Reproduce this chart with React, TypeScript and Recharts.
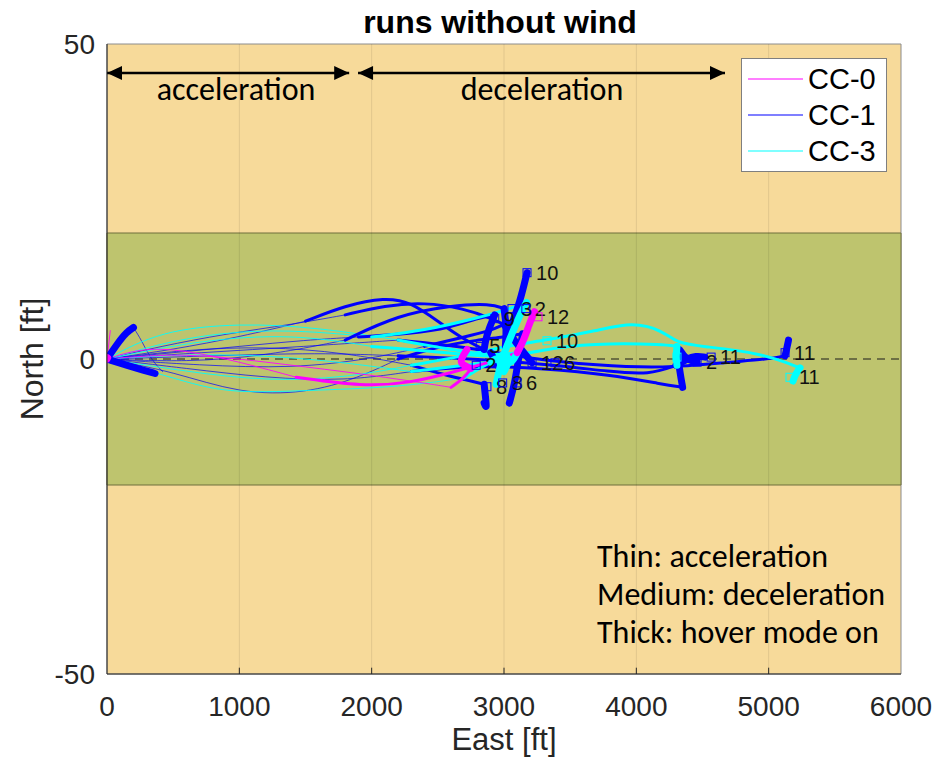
import React from 'react';
import { ComposedChart, Line, XAxis, YAxis, ReferenceArea, ReferenceLine, Scatter, Legend, Label } from 'recharts';

type P = [number, number];

// ---------- axes ----------
const xDomain: [number, number] = [0, 6000];
const yDomain: [number, number] = [-50, 50];
const xTicks = [0, 1000, 2000, 3000, 4000, 5000, 6000];
const yTicks = [-50, 0, 50];
const corridor: [number, number] = [-20, 20];

// ---------- series ----------
const seriesNames = ['CC-0', 'CC-1', 'CC-3'];
const seriesColors = ['#ff00ff', '#0000ff', '#00ffff'];

// CC-0 (magenta)
const cc0Accel: P[][] = [
  [[0, 0], [300, 2], [700, 1], [1100, -1], [1430, -2.9]],
  [[0, 0], [600, 1], [1200, -0.5], [1800, -2], [2300, -3.5], [2600, -4.5]],
  [[0, 0], [25, 4.5]],
];
const cc0Decel: P[][] = [
  [[1430, -2.9], [1935, -4.4], [2290, -3.8], [2592, -2.2], [2947, -0.2], [3100, 1]],
  [[2600, -4.5], [2700, -3], [2750, -1.5]],
];
const cc0Hover: P[][] = [
  [[3100, 1], [3150, 3], [3190, 5.5], [3230, 7.5]],
  [[2750, -1.5], [2700, -1], [2660, -0.5], [2720, 1.5]],
  [[0, 0], [5, 0.2]],
];
const cc0Labels = [{ x: 3257, y: 6.7, text: '12' }];

// CC-1 (blue)
const cc1Accel: P[][] = [
  [[0, 0], [400, 2], [900, 4], [1400, 5.5], [1800, 7]],
  [[0, 0], [500, -2], [1000, -5.5], [1500, -5.5], [1900, -3], [2200, 0]],
  [[0, 0], [600, 1.5], [1200, 2], [1800, 1], [2300, -1]],
  [[0, 0], [500, 1], [1000, 2], [1500, 3], [1900, 3.5]],
  [[0, 0], [700, -1], [1400, -1.5], [2000, 0], [2400, 2]],
  [[0, 0], [600, -1.5], [1200, -3], [1800, -3.5], [2300, -2]],
  [[0, 0], [800, 0.5], [1600, 1], [2200, 0.5]],
  [[0, 0], [700, 1], [1500, 2], [2200, 3]],
  [[0, 0], [500, 1.5], [1000, 3.5], [1500, 6]],
  [[0, 0], [600, -0.5], [1200, 0.5], [1800, 3]],
  [[200, 5], [260, 3], [330, 0], [420, -2]],
];
const cc1Decel: P[][] = [
  [[1800, 7], [2100, 8.5], [2400, 9], [2700, 8], [2900, 6.5], [3050, 5]],
  [[2200, 0], [2500, 2], [2800, 3], [3000, 3.5], [3140, 4]],
  [[2300, -1], [2550, -2.5], [2750, -3.5], [2850, -4]],
  [[1900, 3.5], [2300, 4], [2600, 5], [2800, 6.5], [2930, 7]],
  [[2400, 2], [2700, 3.5], [2900, 4.5], [3000, 5.5]],
  [[2300, -2], [2800, -1], [3300, -1.5], [3800, -2.5], [4200, -4], [4350, -4.5]],
  [[2200, 0.5], [2800, 0], [3400, -1], [3800, -2], [4100, -2.5], [4300, -1]],
  [[2200, 3], [2700, 2], [3200, 0], [3700, -1], [4200, -1.5], [4700, -0.5], [5000, 0], [5124, 0.5]],
  [[1500, 6], [1800, 8.5], [2100, 9.8], [2300, 9], [2500, 6], [2700, 3], [2900, 1]],
  [[1800, 3], [2200, 7], [2600, 8.5], [2900, 8.8], [3000, 8]],
];
const cc1Hover: P[][] = [
  [[3050, 5], [3120, 9], [3174, 13.7]],
  [[3140, 4], [3110, 0], [3080, -4], [3040, -7]],
  [[2850, -4], [2860, -6], [2870, -8], [2850, -7]],
  [[2930, 7], [2890, 5], [2860, 3], [2850, 1.5]],
  [[3000, 5.5], [3060, 3.5], [3130, 1.5], [3212, -0.6]],
  [[4350, -4.5], [4320, -1], [4310, 2.5], [4360, 0], [4459, -0.5]],
  [[4300, -1], [4380, 0], [4450, 0.5], [4519, 0.3]],
  [[5124, 0.5], [5140, 2], [5150, 3]],
  [[2900, 1], [2950, -1]],
  [[3000, 8], [3020, 5], [3010, 2]],
  [[0, 0], [80, 2.5], [150, 4.3], [200, 5]],
  [[0, 0], [150, -1], [280, -1.8], [363, -2.3]],
];
const cc1Labels = [
  { x: 3174, y: 13.7, text: '10' },
  { x: 3060, y: 8, text: '3' },
  { x: 3165, y: 8, text: '2' },
  { x: 2930, y: 6.4, text: '9' },
  { x: 2820, y: 2, text: '5' },
  { x: 2790, y: -1, text: '2' },
  { x: 3212, y: -0.6, text: '12' },
  { x: 3385, y: -0.6, text: '6' },
  { x: 2871, y: -4.4, text: '8' },
  { x: 2990, y: -3.8, text: '8' },
  { x: 3098, y: -3.8, text: '6' },
  { x: 4459, y: -0.5, text: '2' },
  { x: 4565, y: 0.3, text: '11' },
  { x: 5124, y: 1, text: '11' },
];

// CC-3 (cyan)
const cc3Accel: P[][] = [
  [[0, 0], [500, 3], [1000, 4.5], [1500, 4.5], [2000, 3.5]],
  [[0, 0], [600, -2], [1200, -3.5], [1800, -3], [2300, -1]],
  [[0, 0], [700, 3], [1400, 4], [2000, 2]],
  [[0, 0], [500, -3], [900, -5.5], [1500, -5], [2200, -4.5], [2700, -3]],
  [[0, 0], [400, 4.5], [1000, 5.7], [1600, 5], [2200, 3]],
  [[0, 0], [800, 1], [1600, 0], [2300, -2]],
];
const cc3Decel: P[][] = [
  [[2000, 3.5], [2400, 4.5], [2800, 6.5], [3050, 8], [3170, 9]],
  [[2300, -1], [2700, 0.5], [3000, 2], [3325, 3], [3700, 4.5], [3975, 5.9], [4200, 4.5], [4307, 2.5], [4500, 2], [4935, 1], [5237, -1.4]],
  [[2000, 2], [2600, 1], [3000, 0], [3400, 2], [3800, 2.5], [4200, 2.3], [4307, 2]],
  [[2700, -3], [2850, -1], [2950, 0]],
  [[2200, 3], [2600, 1.5], [2900, 0.5], [3100, 1]],
  [[2300, -2], [2700, -1], [2900, -0.5]],
];
const cc3Hover: P[][] = [
  [[3170, 9], [3120, 7], [3060, 4], [3000, 1], [2960, -2], [2940, -4]],
  [[5237, -1.4], [5200, -2.5], [5184, -3.5]],
  [[4307, 2], [4300, 0.3], [4307, -1]],
  [[2950, 0], [3000, 1], [3050, 0], [3000, -2]],
  [[3100, 1], [3050, -1], [3000, 0]],
  [[2900, -0.5], [2960, 0.5], [2980, -1.5]],
];
const cc3Labels = [
  { x: 3325, y: 2.9, text: '10' },
  { x: 5161, y: -2.9, text: '11' },
  { x: 4307, y: 0.3, text: '' },
];

// ---------- annotations ----------
const arrowY = 45.4;
const accelSpan: [number, number] = [0, 1830];
const decelSpan: [number, number] = [1897, 4670];
const regionLabels = [
  { x: 975, y: 41.1, text: 'acceleration' },
  { x: 3287, y: 41.1, text: 'deceleration' },
];
const notes = [
  { x: 3703, y: -33.0, text: 'Thin: acceleration' },
  { x: 3703, y: -39.0, text: 'Medium: deceleration' },
  { x: 3703, y: -45.1, text: 'Thick: hover mode on' },
];

const FONT = '"Liberation Sans", Arial, Helvetica, sans-serif';
const NOTE_FONT = 'Carlito, Calibri, Lato, "Open Sans", sans-serif';
const AXIS_COLOR = '#262626';

const toPts = (run: P[]) => run.map(([x, y]) => ({ x, y }));

function phaseLines(runs: P[][], color: string, width: number, opacity: number, key: string) {
  return runs.map((run, i) => (
    <Line
      key={`${key}-${i}`}
      data={toPts(run)}
      dataKey="y"
      type="basis"
      stroke={color}
      strokeWidth={width}
      strokeOpacity={opacity}
      strokeLinecap="round"
      strokeLinejoin="round"
      dot={false}
      activeDot={false}
      isAnimationActive={false}
      legendType="none"
    />
  ));
}

const makeMarker = (color: string) => (props: any) => {
  const { cx, cy, payload } = props;
  return (
    <g>
      <rect x={cx - 4} y={cy - 4} width={8} height={8} fill="none" stroke={color} strokeWidth={1} />
      {payload.text ? (
        <text x={cx + 9} y={cy + 7} fontSize={20} fontFamily={FONT} fill="#111">
          {payload.text}
        </text>
      ) : null}
    </g>
  );
};

const arrowHead = (props: any) => {
  const { cx, cy, payload } = props;
  const d = payload.dir;
  const pts = `${cx},${cy} ${cx - d * 15},${cy - 7} ${cx - d * 15},${cy + 7}`;
  return <polygon points={pts} fill="#000" />;
};

const centerText = (props: any) => {
  const { cx, cy, payload } = props;
  return (
    <text x={cx} y={cy} textAnchor="middle" fontSize={32} fontFamily={NOTE_FONT} fill="#000">
      {payload.text}
    </text>
  );
};

const startText = (props: any) => {
  const { cx, cy, payload } = props;
  return (
    <text x={cx} y={cy} textAnchor="start" fontSize={32} fontFamily={NOTE_FONT} fill="#000">
      {payload.text}
    </text>
  );
};

const LegendBox = () => (
  <div
    style={{
      width: 146,
      height: 114,
      boxSizing: 'border-box',
      background: '#fff',
      border: '1.5px solid #7f7f7f',
      paddingTop: 2,
    }}
  >
    {seriesNames.map((name, i) => (
      <div key={name} style={{ display: 'flex', alignItems: 'center', height: 36 }}>
        <svg width={66} height={36} style={{ display: 'block' }}>
          <line x1={6} y1={18} x2={61} y2={18} stroke={seriesColors[i]} strokeWidth={1.2} />
        </svg>
        <span style={{ fontFamily: FONT, fontSize: 29, color: '#000', lineHeight: '36px' }}>{name}</span>
      </div>
    ))}
  </div>
);

const YLabel = (props: any) => {
  const vb = props.viewBox || { x: 0, y: 44, width: 107, height: 630 };
  const x = vb.x + 32;
  const y = vb.y + vb.height / 2;
  return (
    <text x={x} y={y} transform={`rotate(-90 ${x} ${y})`} textAnchor="middle" dominantBaseline="central" fontSize={32} fontFamily={FONT} fill={AXIS_COLOR}>
      North [ft]
    </text>
  );
};

export default function App() {
  const arrowHeads = [
    { x: accelSpan[0], y: arrowY, dir: -1 },
    { x: accelSpan[1], y: arrowY, dir: 1 },
    { x: decelSpan[0], y: arrowY, dir: -1 },
    { x: decelSpan[1], y: arrowY, dir: 1 },
  ];
  return (
    <div style={{ position: 'absolute', left: 0, top: 0, width: 938, height: 759, background: '#fff' }}>
      <div
        style={{
          position: 'absolute',
          left: 0,
          top: 4,
          width: 1000,
          textAlign: 'center',
          fontFamily: FONT,
          fontWeight: 'bold',
          fontSize: 32,
          lineHeight: '36px',
          color: '#000',
        }}
      >
        runs without wind
      </div>
      <ComposedChart width={938} height={759} margin={{ top: 44, right: 37, bottom: 0, left: 0 }}>
        <XAxis
          dataKey="x"
          type="number"
          domain={xDomain}
          ticks={xTicks}
          allowDataOverflow
          height={85}
          tickLine={false}
          tickMargin={16}
          axisLine={{ stroke: AXIS_COLOR }}
          tick={{ fontSize: 28, fill: AXIS_COLOR, fontFamily: FONT }}
        >
          <Label value="East [ft]" position="insideBottom" offset={9} fontSize={31} fontFamily={FONT} fill={AXIS_COLOR} />
        </XAxis>
        <YAxis
          dataKey="y"
          type="number"
          domain={yDomain}
          ticks={yTicks}
          allowDataOverflow
          width={107}
          tickLine={false}
          tickMargin={6}
          axisLine={{ stroke: AXIS_COLOR }}
          tick={{ fontSize: 28, fill: AXIS_COLOR, fontFamily: FONT }}
        >
          <Label content={<YLabel />} />
        </YAxis>

        <ReferenceArea x1={xDomain[0]} x2={xDomain[1]} y1={yDomain[0]} y2={yDomain[1]} fill="#f7da9a" fillOpacity={1} stroke="#8c8c8c" strokeWidth={1} />
        <ReferenceArea x1={xDomain[0]} x2={xDomain[1]} y1={corridor[0]} y2={corridor[1]} fill="#bec46e" fillOpacity={1} stroke="#6e6e3c" strokeWidth={1} />
        {xTicks.slice(1, -1).map((t) => (
          <ReferenceLine key={`g${t}`} x={t} stroke="#000" strokeOpacity={0.09} strokeWidth={1} />
        ))}
        {xTicks.slice(1, -1).map((t) => (
          <ReferenceLine key={`t${t}`} segment={[{ x: t, y: yDomain[0] }, { x: t, y: yDomain[0] + 1 }]} stroke={AXIS_COLOR} strokeWidth={1} />
        ))}
        <ReferenceLine segment={[{ x: 0, y: 0 }, { x: 50, y: 0 }]} stroke={AXIS_COLOR} strokeWidth={1} />
        <ReferenceLine y={0} stroke="#1a1a1a" strokeDasharray="8 6" strokeWidth={1.2} />

        {phaseLines(cc1Accel, seriesColors[1], 1, 0.7, 'b1')}
        {phaseLines(cc3Accel, seriesColors[2], 1, 0.9, 'c1')}
        {phaseLines(cc0Accel, seriesColors[0], 1, 0.9, 'm1')}
        {phaseLines(cc1Decel, seriesColors[1], 3, 1, 'b2')}
        {phaseLines(cc3Decel, seriesColors[2], 3, 1, 'c2')}
        {phaseLines(cc0Decel, seriesColors[0], 3, 1, 'm2')}
        {phaseLines(cc1Hover, seriesColors[1], 7, 1, 'b3')}
        {phaseLines(cc3Hover, seriesColors[2], 7, 1, 'c3')}
        {phaseLines(cc0Hover, seriesColors[0], 7, 1, 'm3')}

        <Scatter data={cc1Labels} dataKey="y" shape={makeMarker(seriesColors[1])} isAnimationActive={false} legendType="none" />
        <Scatter data={cc3Labels} dataKey="y" shape={makeMarker(seriesColors[2])} isAnimationActive={false} legendType="none" />
        <Scatter data={cc0Labels} dataKey="y" shape={makeMarker(seriesColors[0])} isAnimationActive={false} legendType="none" />

        <Line data={toPts([[accelSpan[0], arrowY], [accelSpan[1], arrowY]])} dataKey="y" stroke="#000" strokeWidth={2.5} dot={false} activeDot={false} isAnimationActive={false} legendType="none" />
        <Line data={toPts([[decelSpan[0], arrowY], [decelSpan[1], arrowY]])} dataKey="y" stroke="#000" strokeWidth={2.5} dot={false} activeDot={false} isAnimationActive={false} legendType="none" />
        <Scatter data={arrowHeads} dataKey="y" shape={arrowHead} isAnimationActive={false} legendType="none" />
        <Scatter data={regionLabels} dataKey="y" shape={centerText} isAnimationActive={false} legendType="none" />
        <Scatter data={notes} dataKey="y" shape={startText} isAnimationActive={false} legendType="none" />

        <Legend
          layout="horizontal"
          verticalAlign="middle"
          align="center"
          content={() => <LegendBox />}
          wrapperStyle={{ left: 741, top: 58, width: 146, height: 114 }}
        />
      </ComposedChart>
    </div>
  );
}
